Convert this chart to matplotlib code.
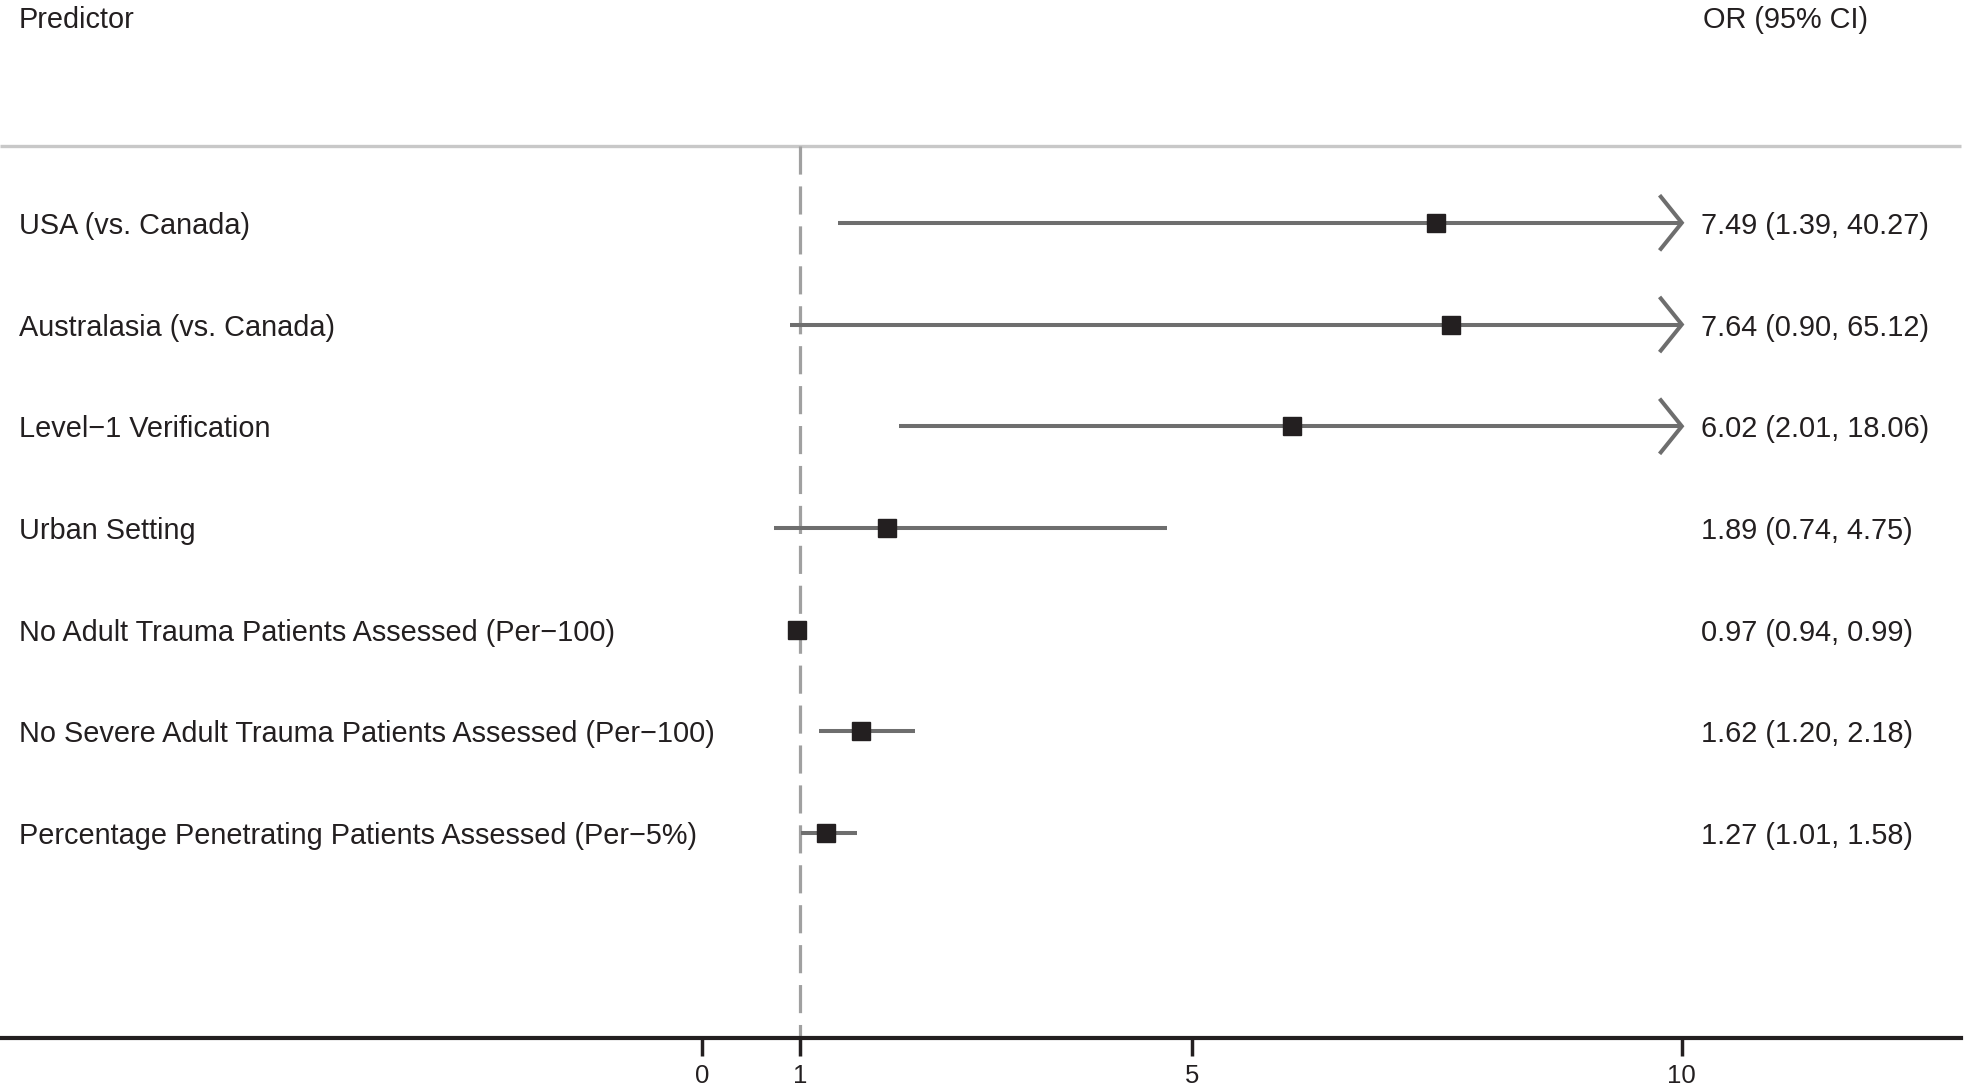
import numpy as np
import matplotlib
matplotlib.use("Agg")
import matplotlib.pyplot as plt

plt.rcParams['font.family'] = ['Liberation Sans', 'DejaVu Sans']

predictors = ["USA (vs. Canada)",
              "Australasia (vs. Canada)",
              "Level\u22121 Verification",
              "Urban Setting",
              "No Adult Trauma Patients Assessed (Per\u2212100)",
              "No Severe Adult Trauma Patients Assessed (Per\u2212100)",
              "Percentage Penetrating Patients Assessed (Per\u22125%)"]
odds = [7.49, 7.64, 6.02, 1.89, 0.97, 1.62, 1.27]
lower = [1.39, 0.90, 2.01, 0.74, 0.94, 1.20, 1.01]
upper = [40.27, 65.12, 18.06, 4.75, 0.99, 2.18, 1.58]
xticks = [0, 1, 5, 10]

xmax_plot = 10      # CI is clipped here, with an open arrow
ci_col = '#6e6e6e'
txt_col = '#231f20'
fs = 20.8

fig = plt.figure(figsize=(19.68, 10.88), dpi=100)
ax = fig.add_axes([0, 0, 1, 1])
ax.set_xlim(-7.16, 12.92)
ax.set_ylim(8.505, -2.19)

for s in ['top', 'right', 'left']:
    ax.spines[s].set_visible(False)
ax.spines['bottom'].set_position(('data', 8.01))
ax.spines['bottom'].set_linewidth(3.0)
ax.spines['bottom'].set_color(txt_col)
ax.spines['bottom'].set_bounds(-7.16, 12.85)
ax.set_yticks([])
ax.set_xticks(xticks)
ax.set_xticklabels([str(t) for t in xticks])
ax.tick_params(axis='x', length=13, width=2.5, labelsize=18.5, pad=6, colors=txt_col)
ax.patch.set_visible(False)

# header rule and reference line
ax.plot([-7.16, 12.85], [-0.757, -0.757], color='#c8c8c8', lw=2.4, solid_capstyle='butt')
ax.plot([1, 1], [-0.757, 8.01], color='#a0a0a0', lw=2.3, dashes=(8.8, 3.7))

hw = 0.214   # arrow head length (x units)
hh = 0.256   # arrow head half height (row units)
for i in range(len(predictors)):
    hi = min(upper[i], xmax_plot)
    ax.plot([lower[i], hi], [i, i], color=ci_col, lw=2.9, solid_capstyle='butt', zorder=2)
    if upper[i] > xmax_plot:
        ax.plot([hi - hw, hi, hi - hw], [i - hh, i, i + hh], color=ci_col, lw=2.9,
                solid_joinstyle='miter', zorder=2)
    ax.plot(odds[i], i, marker='s', ms=13, color=txt_col, zorder=3)
    ax.text(19 / 1968, i + 0.03, predictors[i], transform=ax.get_yaxis_transform(),
            ha='left', va='center', fontsize=fs, color=txt_col)
    ax.text(1701 / 1968, i + 0.03, "%.2f (%.2f, %.2f)" % (odds[i], lower[i], upper[i]),
            transform=ax.get_yaxis_transform(), ha='left', va='center',
            fontsize=fs, color=txt_col)

fig.text(19 / 1968, 1 - 20 / 1088, "Predictor", ha='left', va='center', fontsize=fs, color=txt_col)
fig.text(1703 / 1968, 1 - 20 / 1088, "OR (95% CI)", ha='left', va='center', fontsize=fs, color=txt_col)

fig.savefig("out.png", dpi=100)
